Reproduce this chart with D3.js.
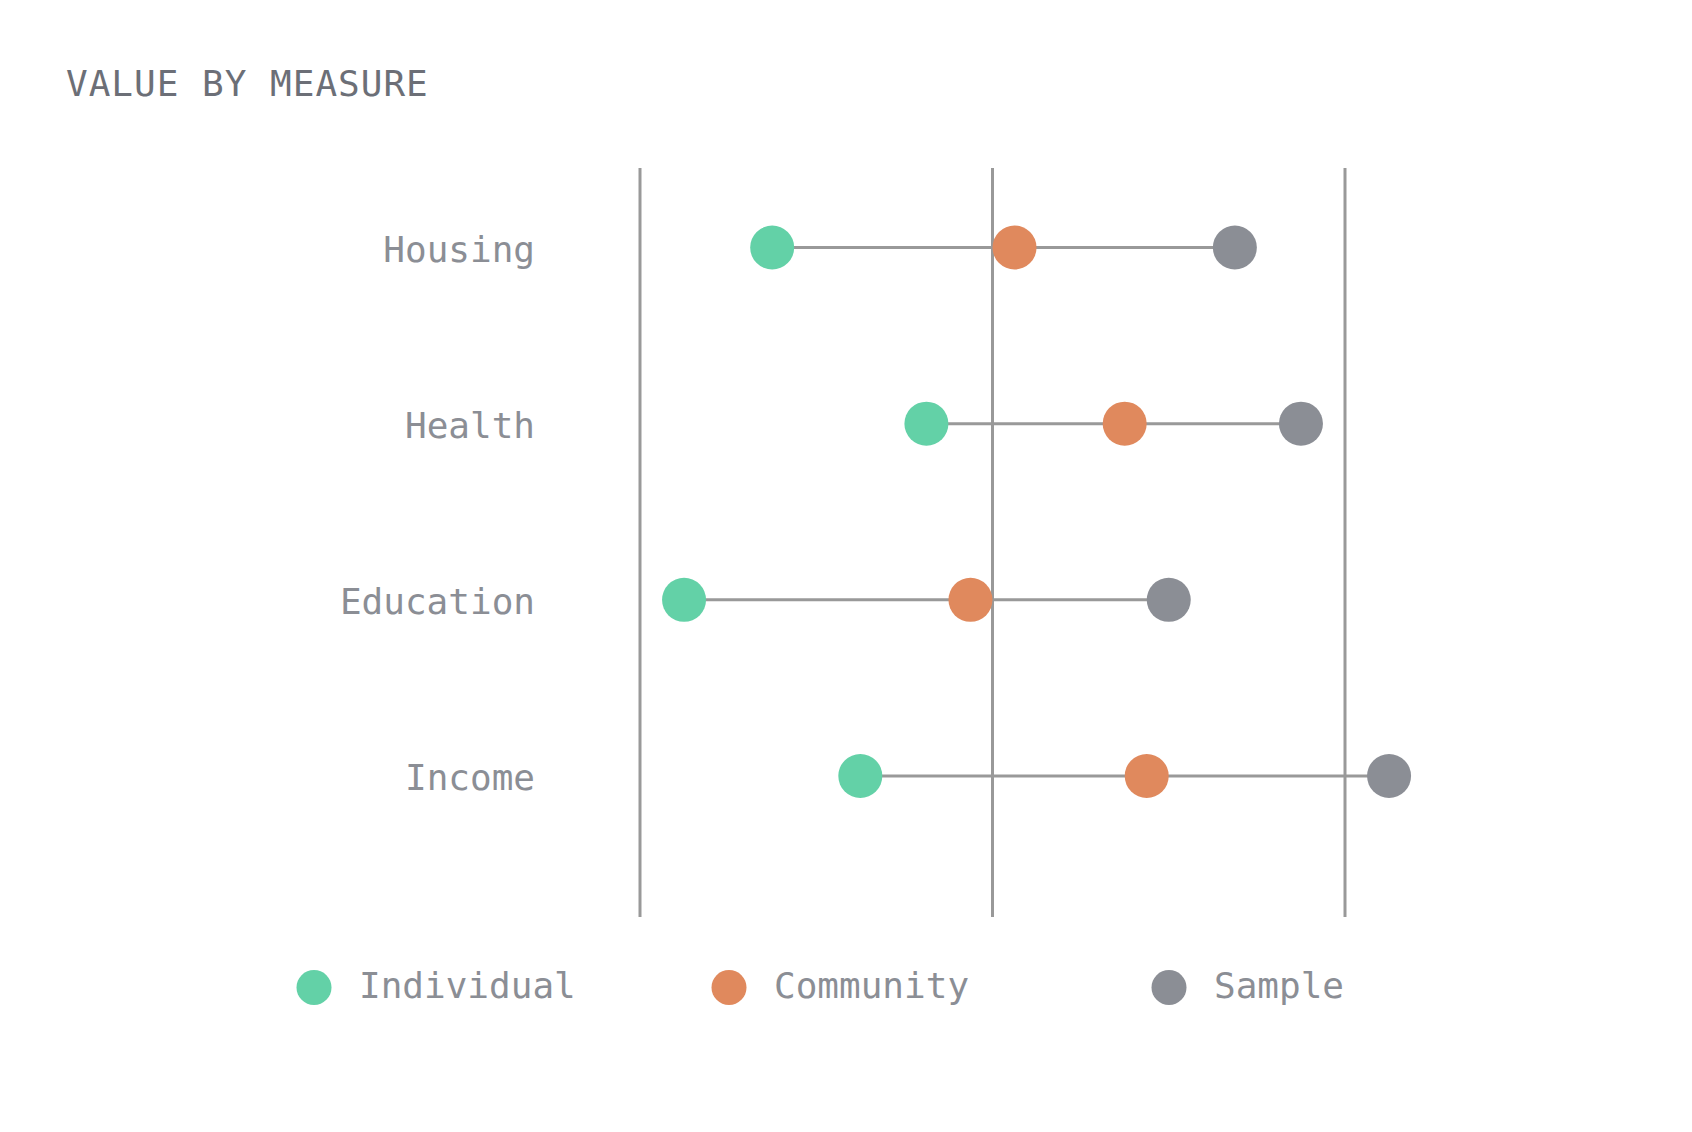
<!DOCTYPE html>
<html>
<head>
<meta charset="utf-8">
<script src="https://cdn.jsdelivr.net/npm/d3@7"></script>
<style>
  body { margin: 0; background: #fff; }
  svg text { font-family: "DejaVu Sans Mono", monospace; }
</style>
</head>
<body>
<svg id="chart" width="1692" height="1132"></svg>
<script>
// data
const measures = ["Housing", "Health", "Education", "Income"];
const individual = [6, 13, 2, 10];
const community = [17, 22, 15, 23];
const sample = [27, 30, 24, 34];
const gridTicks = [0, 16, 32];

const seriesNames = ["Individual", "Community", "Sample"];
const seriesColors = ["#63d1a7", "#e0895d", "#8b8e95"];

const svg = d3.select("#chart");

// scales
const x = d3.scaleLinear()
    .domain([0, 32])
    .range([640, 1345]);

const y = d3.scalePoint()
    .domain(measures)
    .range([247.5, 776]);

const gridTop = 168, gridBottom = 917;

// title
svg.append("text")
    .attr("x", 66)
    .attr("y", 96)
    .attr("font-size", 36)
    .attr("letter-spacing", "1px")
    .attr("fill", "#6c6f77")
    .text("VALUE BY MEASURE");

// vertical grid lines
svg.append("g")
    .selectAll("line")
    .data(gridTicks)
    .join("line")
    .attr("x1", d => x(d))
    .attr("x2", d => x(d))
    .attr("y1", gridTop)
    .attr("y2", gridBottom)
    .attr("stroke", "#999999")
    .attr("stroke-width", 3);

// row labels
svg.append("g")
    .selectAll("text")
    .data(measures)
    .join("text")
    .attr("x", 535)
    .attr("y", d => y(d) + 14)
    .attr("text-anchor", "end")
    .attr("font-size", 36)
    .attr("fill", "#8b8e95")
    .text(d => d);

// rows of dots
const rows = measures.map((m, i) => ({
    name: m,
    values: [individual[i], community[i], sample[i]]
}));

svg.append("g")
    .selectAll("line")
    .data(rows)
    .join("line")
    .attr("x1", d => x(d3.min(d.values)))
    .attr("x2", d => x(d3.max(d.values)))
    .attr("y1", d => y(d.name))
    .attr("y2", d => y(d.name))
    .attr("stroke", "#999999")
    .attr("stroke-width", 3);

const dots = svg.append("g");
rows.forEach(r => {
    dots.selectAll(null)
        .data(r.values)
        .join("circle")
        .attr("cx", d => x(d))
        .attr("cy", y(r.name))
        .attr("r", 22)
        .attr("fill", (d, i) => seriesColors[i]);
});

// legend
const legendX = [314, 729, 1169];
const legendR = 17.5;
const legend = svg.append("g")
    .selectAll("g")
    .data(seriesNames)
    .join("g")
    .attr("transform", (d, i) => `translate(${legendX[i]},987.5)`);

legend.append("circle")
    .attr("r", legendR)
    .attr("fill", (d, i) => seriesColors[i]);

legend.append("text")
    .attr("x", 45)
    .attr("y", 10)
    .attr("font-size", 36)
    .attr("fill", "#8b8e95")
    .text(d => d);
</script>
</body>
</html>
